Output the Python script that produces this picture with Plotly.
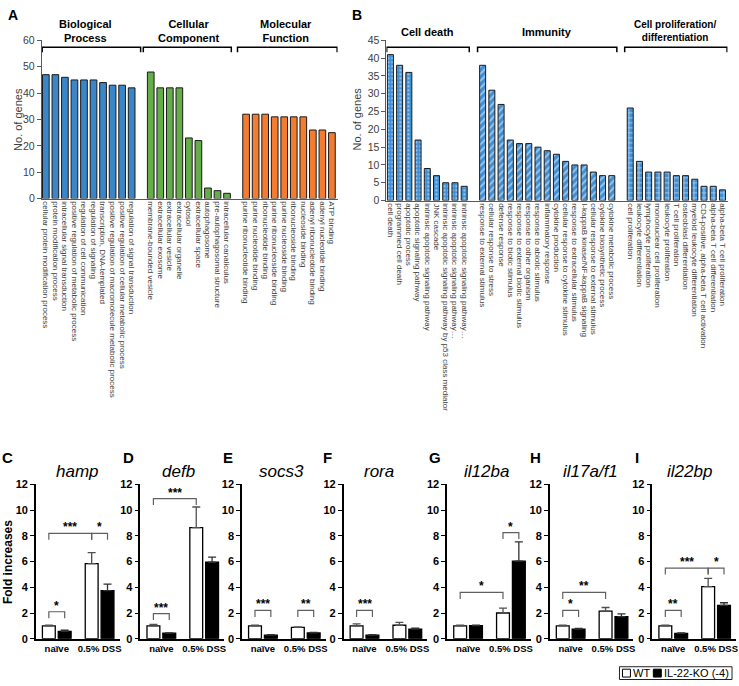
import plotly.graph_objects as go

W, H = 739, 686
FONT = "Liberation Sans, Arial, sans-serif"

# ---------------- Panel A data ----------------
bp_terms = ["cellular protein modification process", "protein modification process",
            "intracellular signal transduction", "positive regulation of metabolic process",
            "regulation of cell communication", "regulation of signaling",
            "transcription, DNA-templated",
            "positive regulation of macromolecule metabolic process",
            "positive regulation of cellular metabolic process",
            "regulation of signal transduction"]
bp_counts = [47, 47, 46, 45, 45, 45, 44, 43, 43, 42]
cc_terms = ["membrane-bounded vesicle", "extracellular exosome", "extracellular vesicle",
            "extracellular organelle", "cytosol", "extracellular space", "autophagosome",
            "pre-autophagosomal structure", "intracellular canaliculus"]
cc_counts = [48, 42, 42, 42, 23, 22, 4, 3, 2]
mf_terms = ["purine ribonucleotide binding", "purine nucleotide binding", "ribonucleotide binding",
            "purine ribonucleoside binding", "purine nucleoside binding", "ribonucleoside binding",
            "nucleoside binding", "adenyl ribonucleotide binding", "adenyl nucleotide binding",
            "ATP binding"]
mf_counts = [32, 32, 32, 31, 31, 31, 31, 26, 26, 25]

# ---------------- Panel B data ----------------
death_terms = ["cell death", "programmed cell death", "apoptotic process",
               "apoptotic signaling pathway", "intrinsic apoptotic signaling pathway",
               "JNK cascade", "intrinsic apoptotic signaling pathway by p53 class mediator",
               "intrinsic apoptotic signaling pathway\u2026",
               "intrinsic apoptotic signaling pathway\u2026"]
death_counts = [41, 38, 36, 17, 9, 7, 5, 5, 4]
immun_terms = ["response to external stimulus", "cellular response to stress", "defense response",
               "response to biotic stimulus", "response to external biotic stimulus",
               "response to other organism", "response to abiotic stimulus",
               "inflammatory response", "cytokine production",
               "cellular response to cytokine stimulus", "response to extracellular stimulus",
               "I-kappaB kinase/NF-kappaB signaling", "cellular response to external stimulus",
               "cytokine biosynthetic process", "cytokine metabolic process"]
immun_counts = [38, 31, 27, 17, 16, 16, 15, 14, 13, 11, 10, 10, 8, 7, 7]
prolif_terms = ["cell proliferation", "leukocyte differentiation", "lymphocyte proliferation",
                "mononuclear cell proliferation", "leukocyte proliferation", "T cell proliferation",
                "osteoblast differentiation", "myeloid leukocyte differentiation",
                "CD4-positive, alpha-beta T cell activation",
                "alpha-beta T cell differentiation", "alpha-beta T cell proliferation"]
prolif_counts = [26, 11, 8, 8, 8, 7, 7, 6, 4, 4, 3]

# ---------------- Panels C-I data ----------------
genes = ["hamp", "defb", "socs3", "rora", "il12ba", "il17a/f1", "il22bp"]
panel_letters = ["C", "D", "E", "F", "G", "H", "I"]
conditions = ["naïve", "0.5% DSS"]
wt_naive = [1.00, 1.00, 1.00, 1.00, 1.00, 1.00, 1.00]
wt_naive_err = [0.05, 0.12, 0.05, 0.15, 0.05, 0.06, 0.06]
ko_naive = [0.58, 0.43, 0.28, 0.28, 1.02, 0.75, 0.42]
ko_naive_err = [0.08, 0.03, 0.03, 0.03, 0.03, 0.05, 0.03]
wt_dss = [5.85, 8.65, 0.88, 1.05, 2.00, 2.15, 4.05]
wt_dss_err = [0.85, 1.60, 0.05, 0.22, 0.38, 0.28, 0.65]
ko_dss = [3.75, 5.95, 0.45, 0.75, 6.03, 1.72, 2.60]
ko_dss_err = [0.50, 0.40, 0.05, 0.07, 1.50, 0.22, 0.20]
# significance brackets: from/to: 0=WT naive,1=KO naive,2=WT DSS,3=KO DSS
sig_panel = [0, 0, 0, 1, 1, 2, 2, 3, 4, 4, 5, 5, 6, 6, 6]
sig_from = [0, 0, 2, 0, 0, 0, 2, 0, 0, 2, 0, 0, 0, 0, 2]
sig_to = [1, 2, 3, 1, 2, 1, 3, 1, 2, 3, 1, 2, 1, 2, 3]
sig_height = [2.1, 8.2, 8.2, 1.95, 10.9, 2.2, 2.2, 2.2, 3.6, 8.25, 2.2, 3.6, 2.2, 5.5, 5.5]
sig_label = ["*", "***", "*", "***", "***", "***", "**", "***", "*", "*", "*", "**", "**", "***", "*"]


def px(x):
    return x / W


def py(y):
    return 1 - y / H


fig = go.Figure()
shapes = []
annos = []

# ---------- Panel A ----------
colA = {"bp": "#3b86c8", "cc": "#64ad48", "mf": "#f47c30"}
a_groups = [(bp_terms, bp_counts, colA["bp"], 0), (cc_terms, cc_counts, colA["cc"], 11),
            (mf_terms, mf_counts, colA["mf"], 21)]
a_vals, a_text = [], []
for terms, counts, col, start in a_groups:
    xs = list(range(start, start + len(counts)))
    a_vals += xs
    a_text += terms
    fig.add_trace(go.Bar(x=xs, y=counts, marker=dict(color=col, line=dict(color="#1a1a1a", width=1)),
                         width=0.7, xaxis="x", yaxis="y", showlegend=False))

# ---------- Panel B ----------
blue = "#3f8fd6"
b_groups = [(death_terms, death_counts, ".", 0), (immun_terms, immun_counts, "/", 10),
            (prolif_terms, prolif_counts, "+", 26)]
b_vals, b_text = [], []
for terms, counts, shp, start in b_groups:
    xs = list(range(start, start + len(counts)))
    b_vals += xs
    b_text += terms
    fig.add_trace(go.Bar(x=xs, y=counts,
                         marker=dict(color=blue, line=dict(color="#1a1a1a", width=1),
                                     pattern=dict(shape=shp, fgcolor="white", fillmode="overlay",
                                                  size=5 if shp != "." else 4,
                                                  solidity=0.35 if shp != "." else 0.25)),
                         width=0.65, xaxis="x2", yaxis="y2", showlegend=False))

axis_grey = "#595959"
text_grey = "#404040"
layout = dict(
    width=W, height=H, autosize=False, margin=dict(l=0, r=0, t=0, b=0),
    paper_bgcolor="white", plot_bgcolor="white", barmode="overlay",
    font=dict(family=FONT, color="black"), showlegend=False,
    xaxis=dict(domain=[px(41), px(338)], range=[-0.42, 30.6], tickvals=a_vals, ticktext=a_text,
               tickangle=90, tickfont=dict(size=8, color=text_grey), ticks="", showline=True,
               linecolor=axis_grey, showgrid=False, zeroline=False, anchor="y"),
    yaxis=dict(domain=[py(196), py(35)], range=[0, 60], dtick=10, ticks="outside", ticklen=4,
               tickcolor=axis_grey, showline=True, linecolor=axis_grey, showgrid=False, zeroline=False,
               tickfont=dict(size=10.5, color=text_grey), anchor="x"),
    xaxis2=dict(domain=[px(387), px(729.5)], range=[-0.43, 36.55], tickvals=b_vals, ticktext=b_text,
                tickangle=90, tickfont=dict(size=8, color=text_grey), ticks="", showline=True,
                linecolor=axis_grey, showgrid=False, zeroline=False, anchor="y2"),
    yaxis2=dict(domain=[py(198), py(35)], range=[0, 45], dtick=5, ticks="outside", ticklen=4,
                tickcolor=axis_grey, showline=True, linecolor=axis_grey, showgrid=False, zeroline=False,
                tickfont=dict(size=10.5, color=text_grey), anchor="x2"),
)


def top_bracket(xref, x0, x1):
    shapes.append(dict(type="path", xref=xref, yref="paper",
                       path=f"M {x0},{py(47)} L {x0},{py(42)} L {x1},{py(42)} L {x1},{py(47)}",
                       line=dict(color="black", width=1.5)))


for x0, x1 in [(-0.38, 9.94), (10.22, 19.45), (20.1, 30.55)]:
    top_bracket("x", x0, x1)
for x0, x1 in [(-0.4, 8.55), (9.45, 24.55), (25.4, 36.5)]:
    top_bracket("x2", x0, x1)


def head(text, x, y, size=11):
    annos.append(dict(text=f"<b>{text}</b>", x=px(x), y=py(y), xref="paper", yref="paper",
                      showarrow=False, font=dict(size=size, color="black"), xanchor="center",
                      yanchor="middle"))


head("Biological<br>Process", 85, 25)
head("Cellular<br>Component", 188, 25)
head("Molecular<br>Function", 286, 25)
head("Cell death", 428, 26)
head("Immunity", 548, 26)
head("Cell proliferation/<br>differentiation", 677, 25, size=10)

for lab, x in [("A", 12), ("B", 357)]:
    annos.append(dict(text=f"<b>{lab}</b>", x=px(x), y=py(9), xref="paper", yref="paper",
                      showarrow=False, font=dict(size=14), xanchor="center", yanchor="middle"))
for x in [17, 357]:
    annos.append(dict(text="No. of genes", x=px(x), y=py(115), xref="paper", yref="paper",
                      showarrow=False, textangle=-90, font=dict(size=11, color=text_grey),
                      xanchor="center", yanchor="middle"))

# ---------- Panels C-I ----------
starts = [35, 140, 242, 344, 448, 551, 654]
letter_x = [7, 128, 228, 328, 436, 537, 639]
title_x = [77, 178, 282, 380, 487, 592, 691]
bar_w = 0.30
xpos = [-0.185, 0.185, 0.815, 1.185]
for i, g in enumerate(genes):
    k = i + 3
    xa, ya = f"x{k}", f"y{k}"
    s = starts[i]
    fig.add_trace(go.Bar(x=[0, 1], y=[wt_naive[i], wt_dss[i]], width=bar_w, offset=-0.335,
                         marker=dict(color="white", line=dict(color="black", width=1.3)),
                         error_y=dict(type="data", symmetric=False, array=[wt_naive_err[i], wt_dss_err[i]],
                                      arrayminus=[0, 0], color="#505050", thickness=1.3, width=4),
                         xaxis=xa, yaxis=ya, name="WT", showlegend=False))
    fig.add_trace(go.Bar(x=[0, 1], y=[ko_naive[i], ko_dss[i]], width=bar_w, offset=0.035,
                         marker=dict(color="black", line=dict(color="black", width=1.3)),
                         error_y=dict(type="data", symmetric=False, array=[ko_naive_err[i], ko_dss_err[i]],
                                      arrayminus=[0, 0], color="#303030", thickness=1.3, width=4),
                         xaxis=xa, yaxis=ya, name="IL-22-KO (-4)", showlegend=False))
    layout[f"xaxis{k}"] = dict(domain=[px(s), px(s + 84)], range=[-0.488, 1.465], tickvals=[0, 1],
                               ticktext=conditions, tickfont=dict(size=9.5, weight="bold"), ticks="",
                               showline=True, linecolor="black", linewidth=1.5, showgrid=False,
                               zeroline=False, anchor=ya, fixedrange=True)
    layout[f"yaxis{k}"] = dict(domain=[py(644), py(487)], range=[0, 12], dtick=2, ticks="outside",
                               ticklen=4, tickcolor="black", tickwidth=1.3, showline=True,
                               linecolor="black", linewidth=1.5, showgrid=False, zeroline=False,
                               tickfont=dict(size=11, weight="bold"), anchor=xa)
    annos.append(dict(text=f"<b>{panel_letters[i]}</b>", x=px(letter_x[i]), y=py(460), xref="paper",
                      yref="paper", showarrow=False, font=dict(size=15), xanchor="center", yanchor="middle"))
    annos.append(dict(text=f"<i>{g}</i>", x=px(title_x[i]), y=py(474), xref="paper", yref="paper",
                      showarrow=False, font=dict(size=17), xanchor="center", yanchor="middle"))

for j in range(len(sig_panel)):
    k = sig_panel[j] + 3
    x0, x1 = xpos[sig_from[j]], xpos[sig_to[j]]
    y = sig_height[j]
    d = 0.5
    shapes.append(dict(type="path", xref=f"x{k}", yref=f"y{k}",
                       path=f"M {x0},{y - d} L {x0},{y} L {x1},{y} L {x1},{y - d}",
                       line=dict(color="#606060", width=1.2)))
    annos.append(dict(text=f"<b>{sig_label[j]}</b>", x=(x0 + x1) / 2, y=y, xref=f"x{k}", yref=f"y{k}",
                      showarrow=False, font=dict(size=12), xanchor="center", yanchor="bottom", yshift=-3))

annos.append(dict(text="<b>Fold increases</b>", x=px(7), y=py(566), xref="paper", yref="paper",
                  showarrow=False, textangle=-90, font=dict(size=12), xanchor="center", yanchor="middle"))

# legend box (bottom right)
shapes.append(dict(type="rect", xref="paper", yref="paper", x0=px(621), x1=px(734), y0=py(685.5), y1=py(672.5),
                   line=dict(color="#222", width=1), fillcolor="white"))
shapes.append(dict(type="rect", xref="paper", yref="paper", x0=px(624), x1=px(632), y0=py(683), y1=py(675),
                   line=dict(color="black", width=1), fillcolor="white"))
shapes.append(dict(type="rect", xref="paper", yref="paper", x0=px(655), x1=px(663), y0=py(683), y1=py(675),
                   line=dict(color="black", width=1), fillcolor="black"))
annos.append(dict(text="WT", x=px(633), y=py(679.2), xref="paper", yref="paper", showarrow=False,
                  font=dict(size=11), xanchor="left", yanchor="middle"))
annos.append(dict(text="IL-22-KO (-4)", x=px(664), y=py(679.2), xref="paper", yref="paper", showarrow=False,
                  font=dict(size=11), xanchor="left", yanchor="middle"))

layout["shapes"] = shapes
layout["annotations"] = annos
fig.update_layout(**layout)
fig.write_html("out.html", config={"displayModeBar": False},
               post_script="document.body.style.margin='0';document.body.style.padding='0';")
